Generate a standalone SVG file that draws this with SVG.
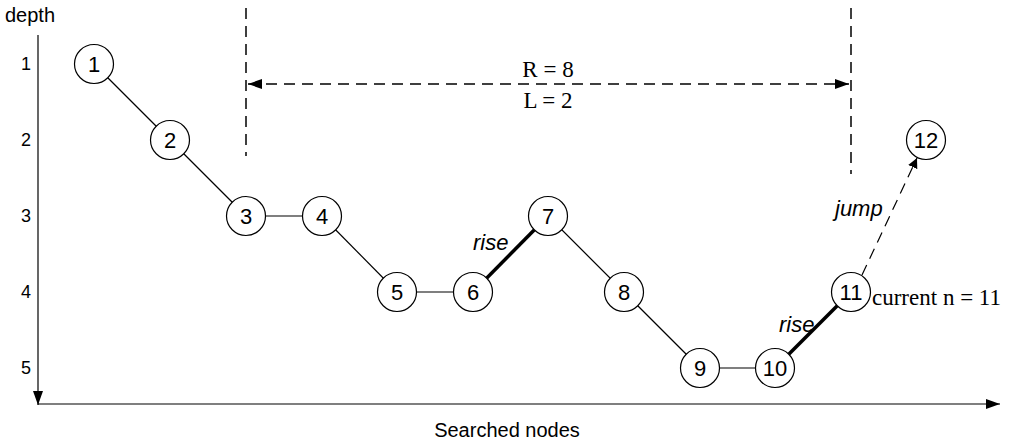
<svg xmlns="http://www.w3.org/2000/svg" width="1010" height="445" viewBox="0 0 1010 445">
  <style>
    .node circle { fill: #fff; stroke: #000; stroke-width: 1.2; }
    .node text { font-family: "Liberation Sans", Arial, sans-serif; font-size: 22px; text-anchor: middle; fill: #000; }
    .edge { stroke: #000; stroke-width: 1.2; fill: none; }
    .thick { stroke: #000; stroke-width: 3.5; fill: none; }
    .dash { stroke: #000; stroke-width: 1.5; fill: none; stroke-dasharray: 11 7; }
    .sans { font-family: "Liberation Sans", Arial, sans-serif; font-size: 20px; fill: #000; }
    .tick { font-family: "Liberation Sans", Arial, sans-serif; font-size: 18px; fill: #000; text-anchor: end; }
    .ital { font-family: "Liberation Sans", Arial, sans-serif; font-size: 22px; font-style: italic; fill: #000; }
    .serif { font-family: "Liberation Serif", "Times New Roman", serif; font-size: 23px; fill: #000; }
  </style>
  <defs>
    <marker id="tri" viewBox="0 0 10 10" refX="10" refY="5" markerWidth="10" markerHeight="10" markerUnits="userSpaceOnUse" orient="auto-start-reverse">
      <path d="M0,0 L10,5 L0,10 z" fill="#000"/>
    </marker>
    <marker id="big" viewBox="0 0 14 10" refX="14" refY="5" markerWidth="14" markerHeight="10" markerUnits="userSpaceOnUse" orient="auto-start-reverse">
      <path d="M0,0 L14,5 L0,10 z" fill="#000"/>
    </marker>
  </defs>

  <!-- axes -->
  <g id="axes">
    <line class="edge" x1="38" y1="35" x2="38" y2="405" marker-end="url(#big)"/>
    <line class="edge" x1="38" y1="404" x2="1000" y2="404" marker-end="url(#big)"/>
    <text class="sans" x="5" y="22">depth</text>
    <text class="tick" x="31" y="70">1</text>
    <text class="tick" x="31" y="146">2</text>
    <text class="tick" x="31" y="222">3</text>
    <text class="tick" x="31" y="298">4</text>
    <text class="tick" x="31" y="374">5</text>
    <text class="sans" x="507" y="437" text-anchor="middle">Searched nodes</text>
  </g>

  <!-- window markers -->
  <g id="window">
    <line class="dash" x1="246" y1="8" x2="246" y2="156"/>
    <line class="dash" x1="851" y1="8" x2="851" y2="174"/>
    <line class="dash" x1="248" y1="84" x2="849" y2="84" marker-start="url(#big)" marker-end="url(#big)"/>
    <text class="serif" x="548" y="77" text-anchor="middle">R = 8</text>
    <text class="serif" x="548" y="108" text-anchor="middle">L = 2</text>
  </g>

  <!-- connectors -->
  <g id="connectors">
    <line class="edge" x1="94" y1="64" x2="170" y2="140"/>
    <line class="edge" x1="170" y1="140" x2="246" y2="216"/>
    <line class="edge" x1="246" y1="216" x2="322" y2="216"/>
    <line class="edge" x1="322" y1="216" x2="397" y2="292"/>
    <line class="edge" x1="397" y1="292" x2="473" y2="292"/>
    <line class="thick" x1="473" y1="292" x2="548" y2="216"/>
    <line class="edge" x1="548" y1="216" x2="624" y2="292"/>
    <line class="edge" x1="624" y1="292" x2="700" y2="368"/>
    <line class="edge" x1="700" y1="368" x2="775" y2="368"/>
    <line class="thick" x1="775" y1="368" x2="851" y2="292"/>
    <line class="dash" style="stroke-width:1.2" x1="862" y1="275" x2="917" y2="158" marker-end="url(#tri)"/>
    <text class="ital" x="473" y="250">rise</text>
    <text class="ital" x="779" y="332">rise</text>
    <text class="ital" x="835" y="216">jump</text>
    <text class="serif" x="872" y="305">current n = 11</text>
  </g>

  <!-- nodes -->
  <g id="n1" class="node"><circle cx="94" cy="64" r="19.5"/><text x="94" y="72">1</text></g>
  <g id="n2" class="node"><circle cx="170" cy="140" r="19.5"/><text x="170" y="148">2</text></g>
  <g id="n3" class="node"><circle cx="246" cy="216" r="19.5"/><text x="246" y="224">3</text></g>
  <g id="n4" class="node"><circle cx="322" cy="216" r="19.5"/><text x="322" y="224">4</text></g>
  <g id="n5" class="node"><circle cx="397" cy="292" r="19.5"/><text x="397" y="300">5</text></g>
  <g id="n6" class="node"><circle cx="473" cy="292" r="19.5"/><text x="473" y="300">6</text></g>
  <g id="n7" class="node"><circle cx="548" cy="216" r="19.5"/><text x="548" y="224">7</text></g>
  <g id="n8" class="node"><circle cx="624" cy="292" r="19.5"/><text x="624" y="300">8</text></g>
  <g id="n9" class="node"><circle cx="700" cy="368" r="19.5"/><text x="700" y="376">9</text></g>
  <g id="n10" class="node"><circle cx="775" cy="368" r="19.5"/><text x="775" y="376">10</text></g>
  <g id="n11" class="node"><circle cx="851" cy="292" r="19.5"/><text x="851" y="300">11</text></g>
  <g id="n12" class="node"><circle cx="926" cy="140" r="19.5"/><text x="926" y="148">12</text></g>
</svg>
